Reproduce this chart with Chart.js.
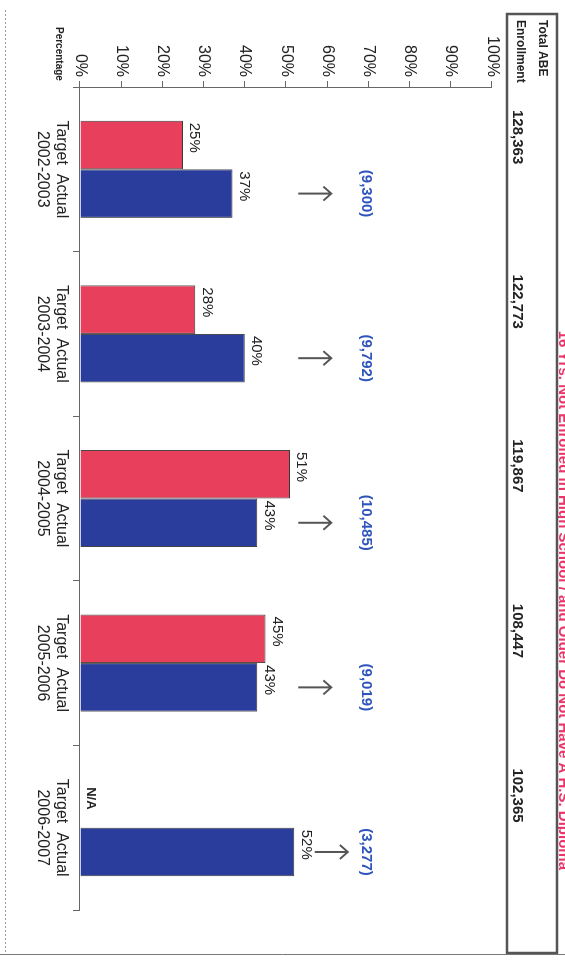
<!DOCTYPE html>
<html>
<head>
<meta charset="utf-8">
<script src="https://cdn.jsdelivr.net/npm/chart.js@4.4.1/dist/chart.umd.min.js"></script>
<style>
  html, body { margin: 0; padding: 0; background: #fff; overflow: hidden; }
  #page {
    position: absolute;
    left: 0;
    top: 0;
    width: 962px;
    height: 565px;
    transform-origin: 0 0;
    transform: translate(565px, 0) rotate(90deg);
    background: #fff;
  }
</style>
</head>
<body>
<div id="page">
  <canvas id="abe-chart" width="962" height="565"></canvas>
</div>
<script>
const categories = [
  ['Target  Actual', '2002-2003'],
  ['Target  Actual', '2003-2004'],
  ['Target  Actual', '2004-2005'],
  ['Target  Actual', '2005-2006'],
  ['Target  Actual', '2006-2007'],
];
const targetValues = [25, 28, 51, 45, null];
const actualValues = [37, 40, 43, 43, 52];
const enrollment = ['128,363', '122,773', '119,867', '108,447', '102,365'];
const notServed = ['(9,300)', '(9,792)', '(10,485)', '(9,019)', '(3,277)'];
const title = '16 Yrs. Not Enrolled in High School / and Older Do Not Have A H.S. Diploma';

const FONT = '"Liberation Sans", Arial, sans-serif';
Chart.defaults.font.family = FONT;
Chart.defaults.color = '#222';

// value labels, N/A, arrows and blue counts
const barNotes = {
  id: 'barNotes',
  afterDatasetsDraw(chart) {
    const { ctx, scales: { y } } = chart;
    const actualMeta = chart.getDatasetMeta(1);
    ctx.save();
    ctx.fillStyle = '#222';
    ctx.textAlign = 'left';
    ctx.textBaseline = 'bottom';

    chart.getDatasetMeta(0).data.forEach((bar, i) => {
      const act = actualMeta.data[i];
      const left = act.x - act.width * 1.5;
      const v = targetValues[i];
      if (v == null) {
        ctx.font = `bold 13px ${FONT}`;
        ctx.fillText('N/A', left + 8, y.getPixelForValue(0) - 4);
      } else {
        ctx.font = `15px ${FONT}`;
        ctx.fillText(`${v}%`, left + 2, bar.y - 4);
      }
    });

    actualMeta.data.forEach((bar, i) => {
      const left = bar.x - bar.width / 2;
      ctx.font = `15px ${FONT}`;
      ctx.fillStyle = '#222';
      ctx.fillText(`${actualValues[i]}%`, left + 2, bar.y - 4);

      // arrow pointing up to the count
      const tailVal = Math.max(53, actualValues[i] + 5);
      const tail = y.getPixelForValue(tailVal);
      const head = y.getPixelForValue(tailVal + 8);
      ctx.strokeStyle = '#555';
      ctx.lineWidth = 2;
      ctx.beginPath();
      ctx.moveTo(bar.x, tail);
      ctx.lineTo(bar.x, head);
      ctx.moveTo(bar.x - 7, head + 8);
      ctx.lineTo(bar.x, head);
      ctx.lineTo(bar.x + 7, head + 8);
      ctx.stroke();

      ctx.font = `bold 15px ${FONT}`;
      ctx.fillStyle = '#2f55bd';
      ctx.textAlign = 'center';
      ctx.textBaseline = 'middle';
      ctx.fillText(notServed[i], bar.x, y.getPixelForValue(69.5));
      ctx.textAlign = 'left';
      ctx.textBaseline = 'bottom';
    });
    ctx.restore();
  },
  afterDraw(chart) {
    const { ctx, scales: { x } } = chart;
    const step = x.width / categories.length;
    ctx.save();

    // cut-off title
    ctx.font = `bold 15px ${FONT}`;
    ctx.fillStyle = '#e8356c';
    ctx.textAlign = 'right';
    ctx.textBaseline = 'alphabetic';
    ctx.fillText(title, 870, 6);

    // enrollment box
    ctx.strokeStyle = '#555';
    ctx.lineWidth = 2.5;
    ctx.strokeRect(14, 8, 939, 50);

    ctx.fillStyle = '#222';
    ctx.textAlign = 'left';
    ctx.font = `bold 12px ${FONT}`;
    ctx.fillText('Total ABE', 20, 26);
    ctx.fillText('Enrollment', 20, 48);

    ctx.font = `bold 15px ${FONT}`;
    enrollment.forEach((txt, i) => {
      const start = x.getPixelForValue(i) - step / 2;
      ctx.fillText(txt, start + 23, 52);
    });

    // axis caption
    ctx.font = `bold 10px ${FONT}`;
    ctx.fillText('Percentage', 27, 509);

    // page frame of the scan
    ctx.strokeStyle = '#999';
    ctx.lineWidth = 1;
    ctx.setLineDash([2, 2]);
    ctx.beginPath();
    ctx.moveTo(10, 559.5);
    ctx.lineTo(954, 559.5);
    ctx.stroke();
    ctx.setLineDash([]);
    ctx.strokeStyle = '#777';
    ctx.beginPath();
    ctx.moveTo(954.5, 0);
    ctx.lineTo(954.5, 565);
    ctx.stroke();
    ctx.restore();
  },
};

// eslint-disable-next-line no-new
new Chart(document.getElementById('abe-chart'), {
  type: 'bar',
  data: {
    labels: categories,
    datasets: [
      {
        label: 'Target',
        data: targetValues,
        backgroundColor: '#e8405c',
        borderColor: '#3a3a3a',
        borderWidth: 1,
        categoryPercentage: 0.59,
        barPercentage: 1,
      },
      {
        label: 'Actual',
        data: actualValues,
        backgroundColor: '#2a3c9c',
        borderColor: '#3a3a3a',
        borderWidth: 1,
        categoryPercentage: 0.59,
        barPercentage: 1,
      },
    ],
  },
  plugins: [barNotes],
  options: {
    responsive: false,
    devicePixelRatio: 1,
    animation: false,
    layout: {
      padding: { top: 73, right: 52, bottom: 0, left: 0 },
    },
    plugins: {
      legend: { display: false },
      tooltip: { enabled: false },
    },
    scales: {
      x: {
        grid: {
          drawOnChartArea: false,
          drawTicks: true,
          tickLength: 7,
          color: '#666',
        },
        border: { color: '#666', width: 1 },
        ticks: {
          font: { size: 16 },
          color: '#222',
          padding: 2,
          maxRotation: 0,
          minRotation: 0,
        },
        afterFit(scale) {
          scale.height = 80;
        },
      },
      y: {
        min: 0,
        max: 100,
        grid: {
          drawOnChartArea: false,
          drawTicks: true,
          tickLength: 6,
          color: '#666',
        },
        border: { color: '#666', width: 1 },
        ticks: {
          stepSize: 10,
          font: { size: 16 },
          color: '#222',
          padding: 4,
          callback(val) {
            return `${val}%`;
          },
        },
        afterFit(scale) {
          scale.width = 87;
        },
      },
    },
  },
});
</script>
</body>
</html>
